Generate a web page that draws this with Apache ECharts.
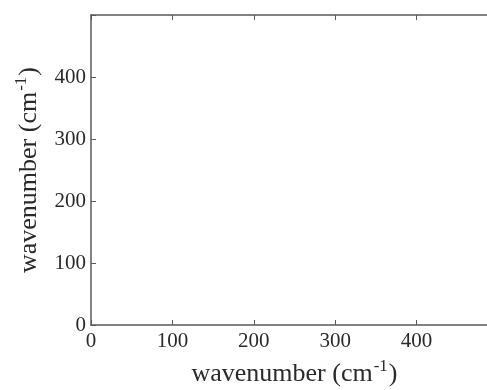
<!DOCTYPE html>
<html><head><meta charset="utf-8">
<script src="https://cdn.jsdelivr.net/npm/echarts@6/dist/echarts.min.js"></script>
<style>html,body{margin:0;padding:0;background:#fff}#c{width:487px;height:390px}</style>
</head><body><div id="c"></div>
<script>
const xRange = [0, 500];
const yRange = [0, 500];
const tickStep = 100;
const seriesData = [];
const axisTitle = 'wavenumber (cm';
const axisSup = '-1';

const lineColor = '#5a5a5a';
const textColor = '#2a2a2a';
const font = '"Liberation Serif", "Times New Roman", serif';
const titleRich = {
  a: {fontFamily: font, fontSize: 26, color: textColor},
  s: {fontFamily: font, fontSize: 17, color: textColor, verticalAlign: 'top', padding: [0,1,16,1]}
};
const titleText = '{a|' + axisTitle + '}{s|' + axisSup + '}{a|)}';
const chart = echarts.init(document.getElementById('c'), null, {renderer: 'canvas'});
const baseAxis = {
  type: 'value', interval: tickStep,
  axisLine: {show: true, onZero: false, lineStyle: {color: lineColor, width: 1.5}},
  axisTick: {show: true, inside: true, length: 5, lineStyle: {color: lineColor, width: 1}},
  splitLine: {show: false}
};
chart.setOption({
  animation: false,
  grid: {left: 91, top: 15, width: 407, height: 310, outerBoundsMode: 'none', containLabel: false},
  xAxis: [
    Object.assign({}, baseAxis, {min: xRange[0], max: xRange[1], position: 'bottom',
      axisLabel: {fontFamily: font, fontSize: 21, color: textColor, margin: 6,
        formatter: v => v === xRange[1] ? '' : String(v)},
      name: titleText, nameLocation: 'middle', nameGap: 33, nameTextStyle: {rich: titleRich}}),
    Object.assign({}, baseAxis, {min: xRange[0], max: xRange[1], position: 'top', axisLabel: {show: false}})
  ],
  yAxis: [
    Object.assign({}, baseAxis, {min: yRange[0], max: yRange[1], position: 'left',
      axisLabel: {fontFamily: font, fontSize: 21, color: textColor, margin: 5,
        formatter: v => v === yRange[1] ? '' : String(v)},
      name: titleText, nameLocation: 'middle', nameGap: 45, nameTextStyle: {rich: titleRich}}),
    Object.assign({}, baseAxis, {min: yRange[0], max: yRange[1], position: 'right', axisLabel: {show: false}})
  ],
  series: [{type: 'line', data: seriesData, xAxisIndex: 0, yAxisIndex: 0}]
});
</script></body></html>
